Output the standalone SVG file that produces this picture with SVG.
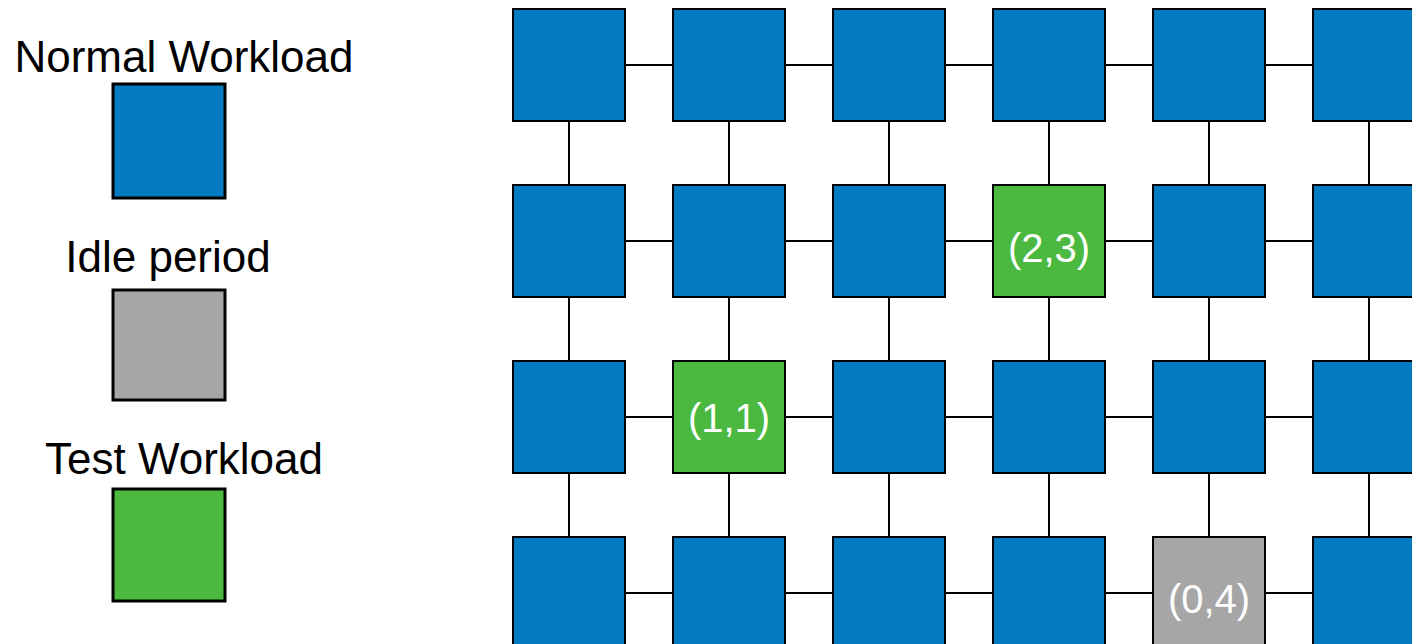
<svg xmlns="http://www.w3.org/2000/svg" width="1412" height="644" viewBox="0 0 1412 644">
<style>
.n{stroke:#000;stroke-width:2}
.lg{stroke:#000;stroke-width:3}
.blue{fill:#047BC1}
.green{fill:#4BB93F}
.gray{fill:#A6A6A6}
.lt{font-family:"Liberation Sans",Arial,sans-serif;font-size:44px;fill:#000;text-anchor:middle}
.bt{font-family:"Liberation Sans",Arial,sans-serif;font-size:40px;fill:#fff;text-anchor:middle}
.c{stroke:#000;stroke-width:2;fill:none}
</style>
<g id="legend">
<g id="legend-normal"><text class="lt" x="184" y="72">Normal Workload</text><rect class="lg blue" x="113" y="84" width="112" height="114"/></g>
<g id="legend-idle"><text class="lt" x="168" y="272">Idle period</text><rect class="lg gray" x="113" y="290" width="112" height="110"/></g>
<g id="legend-test"><text class="lt" x="184" y="474">Test Workload</text><rect class="lg green" x="113" y="489" width="112" height="112"/></g>
</g>
<g id="connectors">
<path class="c" d="M625 65H673M785 65H833M945 65H993M1105 65H1153M1265 65H1313
M625 241H673M785 241H833M945 241H993M1105 241H1153M1265 241H1313
M625 417H673M785 417H833M945 417H993M1105 417H1153M1265 417H1313
M625 593H673M785 593H833M945 593H993M1105 593H1153M1265 593H1313
M569 121V185M729 121V185M889 121V185M1049 121V185M1209 121V185M1369 121V185
M569 297V361M729 297V361M889 297V361M1049 297V361M1209 297V361M1369 297V361
M569 473V537M729 473V537M889 473V537M1049 473V537M1209 473V537M1369 473V537"/>
</g>
<g id="n0-0"><rect class="n blue" x="513" y="9" width="112" height="112"/></g>
<g id="n0-1"><rect class="n blue" x="673" y="9" width="112" height="112"/></g>
<g id="n0-2"><rect class="n blue" x="833" y="9" width="112" height="112"/></g>
<g id="n0-3"><rect class="n blue" x="993" y="9" width="112" height="112"/></g>
<g id="n0-4"><rect class="n blue" x="1153" y="9" width="112" height="112"/></g>
<g id="n0-5"><rect class="n blue" x="1313" y="9" width="112" height="112"/></g>
<g id="n1-0"><rect class="n blue" x="513" y="185" width="112" height="112"/></g>
<g id="n1-1"><rect class="n blue" x="673" y="185" width="112" height="112"/></g>
<g id="n1-2"><rect class="n blue" x="833" y="185" width="112" height="112"/></g>
<g id="n1-3"><rect class="n green" x="993" y="185" width="112" height="112"/><text class="bt" x="1049" y="262">(2,3)</text></g>
<g id="n1-4"><rect class="n blue" x="1153" y="185" width="112" height="112"/></g>
<g id="n1-5"><rect class="n blue" x="1313" y="185" width="112" height="112"/></g>
<g id="n2-0"><rect class="n blue" x="513" y="361" width="112" height="112"/></g>
<g id="n2-1"><rect class="n green" x="673" y="361" width="112" height="112"/><text class="bt" x="729" y="432">(1,1)</text></g>
<g id="n2-2"><rect class="n blue" x="833" y="361" width="112" height="112"/></g>
<g id="n2-3"><rect class="n blue" x="993" y="361" width="112" height="112"/></g>
<g id="n2-4"><rect class="n blue" x="1153" y="361" width="112" height="112"/></g>
<g id="n2-5"><rect class="n blue" x="1313" y="361" width="112" height="112"/></g>
<g id="n3-0"><rect class="n blue" x="513" y="537" width="112" height="112"/></g>
<g id="n3-1"><rect class="n blue" x="673" y="537" width="112" height="112"/></g>
<g id="n3-2"><rect class="n blue" x="833" y="537" width="112" height="112"/></g>
<g id="n3-3"><rect class="n blue" x="993" y="537" width="112" height="112"/></g>
<g id="n3-4"><rect class="n gray" x="1153" y="537" width="112" height="112"/><text class="bt" x="1209" y="613">(0,4)</text></g>
<g id="n3-5"><rect class="n blue" x="1313" y="537" width="112" height="112"/></g>
</svg>
